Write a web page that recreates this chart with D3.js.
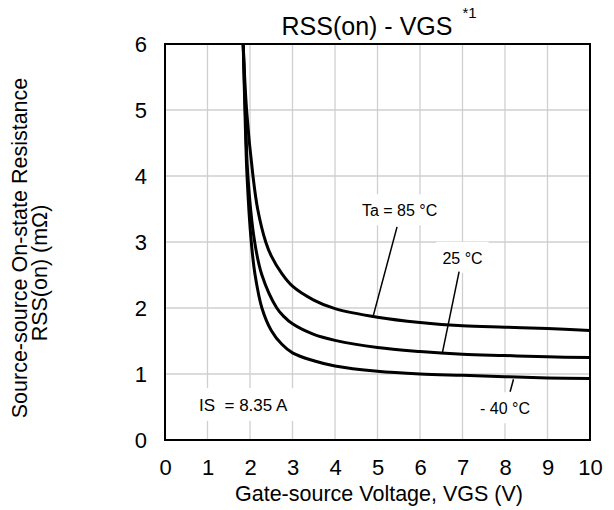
<!DOCTYPE html>
<html>
<head>
<meta charset="utf-8">
<script src="https://cdn.jsdelivr.net/npm/d3@7"></script>
<style>
  body { margin: 0; background: #fff; }
  text { font-family: Arial, "Liberation Sans", sans-serif; fill: #000; }
</style>
</head>
<body>
<svg id="chart" width="614" height="510"></svg>
<script>
// Curve data (VGS in V, RSS(on) in mOhm)
const vgsM40 = [1.84, 1.88, 1.93, 2.03, 2.12, 2.28, 2.5, 2.75, 3, 3.5, 4, 5, 6, 7, 8, 9, 10];
const rssM40 = [6, 5, 4, 3, 2.5, 2.0, 1.66, 1.45, 1.32, 1.2, 1.12, 1.04, 1.0, 0.98, 0.96, 0.94, 0.93];

const vgs25 = [1.84, 1.89, 1.95, 2.11, 2.28, 2.63, 2.8, 3, 3.5, 4, 5, 6, 7, 8, 9, 10];
const rss25 = [6, 5, 4, 3, 2.5, 2.0, 1.87, 1.76, 1.6, 1.51, 1.40, 1.34, 1.30, 1.28, 1.26, 1.25];

const vgs85 = [1.84, 1.92, 2.07, 2.18, 2.37, 2.5, 2.75, 3, 3.5, 4, 5, 6, 7, 8, 9, 10];
const rss85 = [6, 5, 4, 3.5, 3, 2.79, 2.52, 2.33, 2.12, 1.99, 1.86, 1.78, 1.73, 1.71, 1.69, 1.66];

const xTicks = [0, 1, 2, 3, 4, 5, 6, 7, 8, 9, 10];
const yTicks = [0, 1, 2, 3, 4, 5, 6];

const series = [
  { vgs: vgsM40, rss: rssM40 },
  { vgs: vgs25, rss: rss25 },
  { vgs: vgs85, rss: rss85 }
];

// Plot box
const plotLeft = 165, plotRight = 590, plotTop = 44, plotBottom = 440;

const svg = d3.select('#chart');
const x = d3.scaleLinear().domain([0, 10]).range([plotLeft, plotRight]);
const y = d3.scaleLinear().domain([0, 6]).range([plotBottom, plotTop]);

// Grid
svg.append('g')
  .selectAll('line')
  .data(xTicks.slice(1, -1))
  .enter().append('line')
  .attr('x1', d => x(d)).attr('x2', d => x(d))
  .attr('y1', plotTop).attr('y2', plotBottom)
  .attr('stroke', '#cfcfcf').attr('stroke-width', 1.3);

svg.append('g')
  .selectAll('line')
  .data(yTicks.slice(1, -1))
  .enter().append('line')
  .attr('x1', plotLeft).attr('x2', plotRight)
  .attr('y1', d => y(d)).attr('y2', d => y(d))
  .attr('stroke', '#cfcfcf').attr('stroke-width', 1.3);

// Annotation boxes go over the grid, under the curves
const labelLayer = svg.append('g');

// Curves
svg.append('clipPath').attr('id', 'plotClip')
  .append('rect')
  .attr('x', plotLeft).attr('y', plotTop)
  .attr('width', plotRight - plotLeft).attr('height', plotBottom - plotTop);

const line = d3.line()
  .x(d => x(d[0]))
  .y(d => y(d[1]))
  .curve(d3.curveCatmullRom.alpha(0.5));

svg.append('g')
  .attr('clip-path', 'url(#plotClip)')
  .selectAll('path')
  .data(series)
  .enter().append('path')
  .attr('d', s => line(s.vgs.map((v, i) => [v, s.rss[i]])))
  .attr('fill', 'none')
  .attr('stroke', '#000')
  .attr('stroke-width', 3);

// Frame
svg.append('rect')
  .attr('x', plotLeft).attr('y', plotTop)
  .attr('width', plotRight - plotLeft).attr('height', plotBottom - plotTop)
  .attr('fill', 'none').attr('stroke', '#000').attr('stroke-width', 2);

// Axes (labels only, the grid does the rest)
const xAxis = svg.append('g')
  .attr('transform', `translate(0,${plotBottom + 19})`)
  .call(d3.axisBottom(x).tickValues(xTicks).tickSize(0).tickPadding(0).tickFormat(d3.format('d')));
xAxis.select('.domain').remove();
xAxis.selectAll('text').attr('font-size', 22).attr('font-family', 'Arial, "Liberation Sans", sans-serif');

const yAxis = svg.append('g')
  .attr('transform', `translate(${plotLeft - 18},0)`)
  .call(d3.axisLeft(y).tickValues(yTicks).tickSize(0).tickPadding(0).tickFormat(d3.format('d')));
yAxis.select('.domain').remove();
yAxis.selectAll('text').attr('font-size', 22).attr('font-family', 'Arial, "Liberation Sans", sans-serif');

// Titles
const title = svg.append('text')
  .attr('x', 367).attr('y', 35)
  .attr('text-anchor', 'middle')
  .attr('font-size', 25)
  .text('RSS(on) - VGS');
const tb = title.node().getBBox();
svg.append('text')
  .attr('x', tb.x + tb.width + 10).attr('y', 18)
  .attr('font-size', 15)
  .text('*1');

svg.append('text')
  .attr('x', 379).attr('y', 501)
  .attr('text-anchor', 'middle')
  .attr('font-size', 21.5)
  .text('Gate-source Voltage, VGS (V)');

svg.append('text')
  .attr('transform', 'translate(27,248) rotate(-90)')
  .attr('text-anchor', 'middle')
  .attr('font-size', 21.5)
  .text('Source-source On-state Resistance');

svg.append('text')
  .attr('transform', 'translate(47,273) rotate(-90)')
  .attr('text-anchor', 'middle')
  .attr('font-size', 21.5)
  .text('RSS(on) (m\u03a9)');

// Curve labels with leader lines
const notes = [
  { text: 'Ta = 85 \u00b0C', size: 16, at: [5.52, 3.39], from: [5.46, 3.23], to: [4.9, 1.88] },
  { text: '25 \u00b0C', size: 16, at: [7.0, 2.67], from: [6.92, 2.55], to: [6.52, 1.30] },
  { text: '- 40 \u00b0C', size: 16, at: [8.0, 0.39], from: [8.2, 0.92], to: [8.12, 0.73] },
  { text: 'IS\u00a0\u00a0= 8.35 A', size: 17, at: [1.84, 0.44] }
];

notes.forEach(n => {
  const g = labelLayer.append('g');
  const bg = g.append('rect').attr('fill', '#fff');
  const t = g.append('text')
    .attr('x', x(n.at[0])).attr('y', y(n.at[1]))
    .attr('text-anchor', 'middle')
    .attr('font-size', n.size)
    .text(n.text);
  const b = t.node().getBBox();
  bg.attr('x', b.x - 6).attr('y', b.y - 8)
    .attr('width', b.width + 12).attr('height', b.height + 14);
  if (n.from) {
    svg.append('line')
      .attr('x1', x(n.from[0])).attr('y1', y(n.from[1]))
      .attr('x2', x(n.to[0])).attr('y2', y(n.to[1]))
      .attr('stroke', '#000').attr('stroke-width', 1.5);
  }
});
</script>
</body>
</html>
